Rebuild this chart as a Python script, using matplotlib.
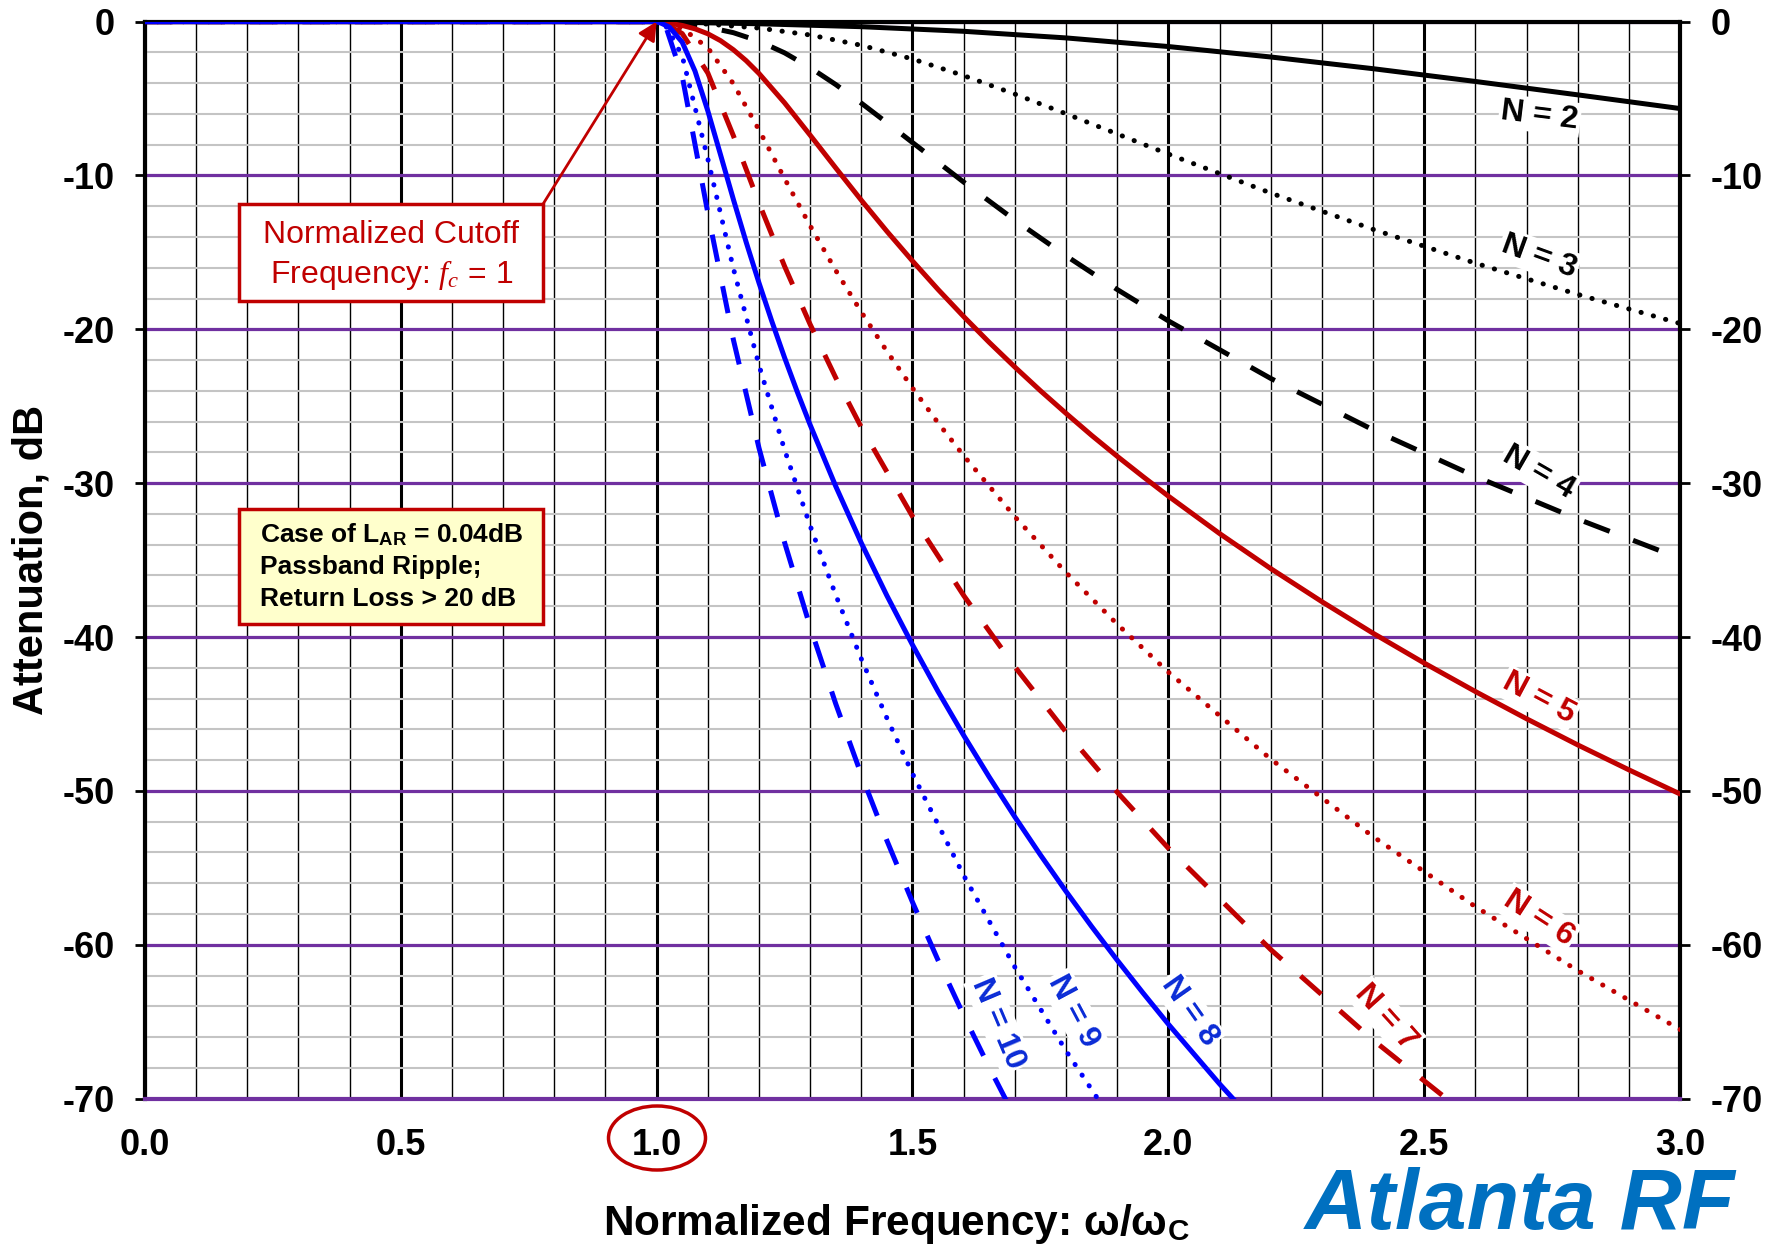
import matplotlib
matplotlib.use("Agg")
import matplotlib.pyplot as plt
from matplotlib.patches import Rectangle, Ellipse
import numpy as np

plt.rcParams['font.family'] = ['Liberation Sans', 'DejaVu Sans']
plt.rcParams['mathtext.fontset'] = 'custom'
plt.rcParams['mathtext.rm'] = 'Liberation Sans'
plt.rcParams['mathtext.it'] = 'Liberation Serif:italic'
plt.rcParams['mathtext.bf'] = 'Liberation Sans:bold'

# ---- data (attenuation in dB) ----
n2_x = [0, 1.0, 1.1, 1.2, 1.4, 1.6, 1.8, 2.0, 2.2, 2.4, 2.6, 2.8, 3.0]
n2_y = [0, 0, 0.08, 0.14, 0.33, 0.63, 1.06, 1.62, 2.30, 3.06, 3.89, 4.76, 5.65]

n3_x = [0, 1.0, 1.05, 1.1, 1.2, 1.3, 1.4, 1.5, 1.6, 1.7, 1.8, 1.9, 2.0, 2.2, 2.4, 2.6, 2.8, 3.0]
n3_y = [0, 0, 0.09, 0.16, 0.42, 0.87, 1.54, 2.43, 3.51, 4.71, 5.99, 7.30, 8.61, 11.14, 13.50, 15.70, 17.73, 19.62]

n4_x = [0, 1.0, 1.05, 1.1, 1.15, 1.2, 1.25, 1.3, 1.35, 1.4, 1.45, 1.5, 1.6, 1.7, 1.8, 1.9, 2.0, 2.2, 2.4, 2.6, 2.8, 3.0]
n4_y = [0, 0, 0.14, 0.36, 0.72, 1.27, 2.03, 2.99, 4.09, 5.30, 6.57, 7.86, 10.43, 12.90, 15.22, 17.41, 19.45, 23.19, 26.53, 29.56, 32.33, 34.89]

n5_x = [0, 1.0, 1.025, 1.05, 1.075, 1.1, 1.125, 1.15, 1.175, 1.2, 1.25, 1.3, 1.35, 1.4, 1.45, 1.5,
        1.55, 1.6, 1.65, 1.7, 1.75, 1.8, 1.85, 1.9, 1.95, 2.0, 2.1, 2.2, 2.3, 2.4, 2.5, 2.6, 2.7, 2.8, 2.9, 3.0]
n5_y = [0, 0, 0.11, 0.25, 0.47, 0.79, 1.24, 1.83, 2.54, 3.37, 5.28, 7.38, 9.51, 11.61, 13.63, 15.56,
        17.41, 19.17, 20.85, 22.45, 23.99, 25.46, 26.89, 28.25, 29.56, 30.84, 33.27, 35.55, 37.70, 39.75, 41.69, 43.54, 45.31, 47.01, 48.63, 50.20]

n6_x = [0, 1.0, 1.05, 1.1, 1.15, 1.2, 1.25, 1.3, 1.35, 1.4, 1.45, 1.5, 1.55, 1.6, 1.7, 1.8, 1.9, 2.0, 2.2, 2.4, 2.6, 2.8, 3.0]
n6_y = [0, 0, 0.44, 1.70, 4.04, 7.04, 10.20, 13.27, 16.17, 18.88, 21.43, 23.82, 26.08, 28.21, 32.18, 35.81, 39.16, 42.28, 47.93, 52.97, 57.52, 61.68, 65.51]

n7_x = [0, 1.0, 1.02, 1.05, 1.1, 1.15, 1.2, 1.25, 1.3, 1.35, 1.4, 1.5, 1.6, 1.7, 1.8, 1.9, 2.0, 2.2, 2.4, 2.6]
n7_y = [0, 0, 0.18, 0.78, 3.34, 7.42, 11.79, 15.90, 19.68, 23.15, 26.37, 32.16, 37.30, 41.93, 46.17, 50.08, 53.72, 60.31, 66.19, 71.50]

n8_x = [0, 1.0, 1.01, 1.025, 1.05, 1.075, 1.1, 1.125, 1.15, 1.175, 1.2, 1.225, 1.25, 1.275, 1.3, 1.35, 1.4, 1.45, 1.5,
        1.55, 1.6, 1.65, 1.7, 1.75, 1.8, 1.85, 1.9, 1.95, 2.0, 2.1, 2.2]
n8_y = [0, 0, 0.12, 0.36, 1.34, 3.22, 5.80, 8.67, 11.56, 14.34, 16.98, 19.47, 21.84, 24.08, 26.21, 30.20, 33.89, 37.31, 40.51,
        43.54, 46.39, 49.10, 51.69, 54.16, 56.53, 58.81, 61.00, 63.11, 65.16, 69.04, 72.69]

n9_x = [0, 1.0, 1.02, 1.05, 1.1, 1.15, 1.2, 1.25, 1.3, 1.35, 1.4, 1.45, 1.5, 1.6, 1.7, 1.8, 1.9]
n9_y = [0, 0, 0.37, 2.24, 8.92, 16.05, 22.33, 27.83, 32.77, 37.27, 41.42, 45.27, 48.88, 55.49, 61.45, 66.89, 71.92]

n10_x = [0, 1.0, 1.02, 1.05, 1.1, 1.15, 1.2, 1.25, 1.3, 1.35, 1.4, 1.45, 1.5, 1.55, 1.6, 1.65, 1.7]
n10_y = [0, 0, 0.53, 3.55, 12.43, 20.68, 27.71, 33.85, 39.34, 44.34, 48.95, 53.23, 57.23, 61.01, 64.58, 67.97, 71.20]

x_tick_vals = [0.0, 0.5, 1.0, 1.5, 2.0, 2.5, 3.0]
x_tick_labels = ['0.0', '0.5', '1.0', '1.5', '2.0', '2.5', '3.0']
y_tick_vals = [0, -10, -20, -30, -40, -50, -60, -70]
y_tick_labels = ['0', '-10', '-20', '-30', '-40', '-50', '-60', '-70']

# label text, position, rotation
curve_labels = ['N = 2', 'N = 3', 'N = 4', 'N = 5', 'N = 6', 'N = 7', 'N = 8', 'N = 9', 'N = 10']
label_x = [2.726, 2.724, 2.724, 2.724, 2.724, 2.426, 2.041, 1.815, 1.668]
label_y = [-6.1, -15.3, -29.3, -44.0, -58.3, -64.7, -64.3, -64.3, -65.1]
label_rot = [-7, -20, -30, -28, -33, -48, -55, -62, -67]

BLACK = 'black'
RED = '#C00000'
BLUE = '#0000FF'
LBLUE = '#0a2bd6'
PURPLE = '#7030A0'

series = [
    (n2_x, n2_y, BLACK, '-'),
    (n3_x, n3_y, BLACK, ':'),
    (n4_x, n4_y, BLACK, '--'),
    (n5_x, n5_y, RED, '-'),
    (n6_x, n6_y, RED, ':'),
    (n7_x, n7_y, RED, '--'),
    (n8_x, n8_y, BLUE, '-'),
    (n9_x, n9_y, BLUE, ':'),
    (n10_x, n10_y, BLUE, '--'),
]
label_colors = [BLACK, BLACK, BLACK, RED, RED, RED, LBLUE, LBLUE, LBLUE]

fig = plt.figure(figsize=(17.85, 12.49), dpi=100)
ax = fig.add_axes([0.0812, 0.1204, 0.86, 0.8623])
ax.set_xlim(0, 3.0)
ax.set_ylim(-70, 0)
ax.set_axisbelow(True)

LW = 3.6
for xs, ys, col, ls in series:
    yy = [-v for v in ys]
    if ls == ':':
        ax.plot(xs, yy, color=col, lw=LW, linestyle=(0, (0.05, 2.5)),
                dash_capstyle='round', solid_capstyle='round', zorder=3)
    elif ls == '--':
        ax.plot(xs, yy, color=col, lw=LW, linestyle=(0, (5.5, 5.0)),
                dash_capstyle='butt', zorder=3)
    else:
        ax.plot(xs, yy, color=col, lw=LW, solid_capstyle='round',
                solid_joinstyle='round', zorder=3)

for t, x, y, r, c in zip(curve_labels, label_x, label_y, label_rot, label_colors):
    ax.text(x, y, t, color=c, fontsize=23, fontweight='bold', rotation=r,
            rotation_mode='anchor', ha='center', va='center', zorder=4,
            bbox=dict(facecolor='white', edgecolor='none', pad=1.5))

# ticks & grid
ax.set_xticks(x_tick_vals)
ax.set_xticklabels(x_tick_labels, fontsize=26, fontweight='bold')
ax.set_xticks(np.arange(0, 3.0001, 0.1), minor=True)
ax.set_yticks(y_tick_vals)
ax.set_yticklabels(y_tick_labels, fontsize=26, fontweight='bold')
ax.set_yticks(np.arange(-70, 0.001, 2), minor=True)
ax.tick_params(axis='x', which='both', length=0, pad=21)
ax.tick_params(axis='y', which='major', length=7, width=2, direction='out', pad=15,
               right=True, labelright=True, left=True, labelleft=True)
ax.tick_params(axis='y', which='minor', length=0)
for t in ax.yaxis.get_major_ticks():
    t.label2.set_fontsize(26)
    t.label2.set_fontweight('bold')

ax.grid(which='minor', axis='y', color='#C4C4C4', lw=1.5)
ax.grid(which='major', axis='y', color=PURPLE, lw=2.3)
ax.grid(which='minor', axis='x', color='black', lw=1.0)
ax.grid(which='major', axis='x', color='black', lw=2.2)

for s in ['left', 'right', 'top']:
    ax.spines[s].set_color('black')
    ax.spines[s].set_linewidth(3)
ax.spines['bottom'].set_color(PURPLE)
ax.spines['bottom'].set_linewidth(3)

# annotation boxes
ax.add_patch(Rectangle((0.1846, -18.13), 0.5937, 6.29, facecolor='white',
                       edgecolor=RED, lw=2.5, zorder=5))
ax.text(0.4815, -13.84, 'Normalized Cutoff', color=RED, fontsize=23,
        ha='center', va='center', zorder=6)
ax.text(0.4815, -16.45, r'Frequency: $\mathit{f}_{\mathit{c}}$ = 1', color=RED, fontsize=23,
        ha='center', va='center', zorder=6)
ax.annotate('', xy=(1.0, 0), xytext=(0.7783, -11.84),
            arrowprops=dict(arrowstyle='-|>', color=RED, lw=2, mutation_scale=28,
                            shrinkA=0, shrinkB=0), zorder=6, annotation_clip=False)

ax.add_patch(Rectangle((0.1846, -39.16), 0.5937, 7.48, facecolor='#FFFFCC',
                       edgecolor=RED, lw=2.5, zorder=5))
ax.text(0.2246, -33.38, r'Case of L$_{\mathbf{AR}}$ = 0.04dB', color='black', fontsize=19,
        fontweight='bold', ha='left', va='center', zorder=6)
ax.text(0.2246, -35.46, 'Passband Ripple;', color='black', fontsize=19,
        fontweight='bold', ha='left', va='center', zorder=6)
ax.text(0.2246, -37.53, 'Return Loss > 20 dB', color='black', fontsize=19,
        fontweight='bold', ha='left', va='center', zorder=6)

# circle around 1.0
fig.patches.append(Ellipse((657 / 1785, 1 - 1138 / 1249), 97 / 1785, 64 / 1249,
                           transform=fig.transFigure, fill=False, edgecolor=RED, lw=2.5))

fig.text(0.502, 0.0200, r'Normalized Frequency: ω/ω$_{\mathbf{C}}$', fontsize=30.5,
         fontweight='bold', ha='center', va='center')
fig.text(0.0174, 0.5517, 'Attenuation, dB', fontsize=30, fontweight='bold',
         rotation=90, ha='center', va='center')
fig.text(0.8515, 0.016, 'Atlanta RF', fontsize=62, fontweight='bold', style='italic',
         color='#0070C0', ha='center', va='baseline')

fig.savefig('out.png', dpi=100)
